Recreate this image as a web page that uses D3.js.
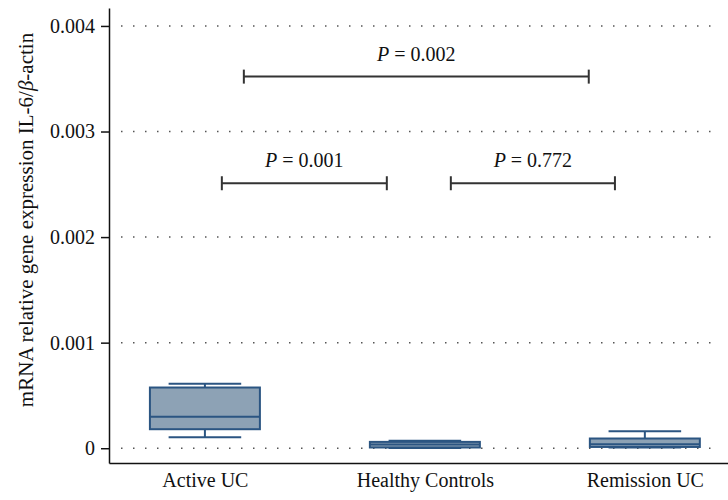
<!DOCTYPE html>
<html>
<head>
<meta charset="utf-8">
<script src="https://cdn.jsdelivr.net/npm/d3@7"></script>
<style>
  body { margin: 0; background: #fff; }
  svg { display: block; font-family: "Liberation Serif", "DejaVu Serif", serif; }
  .axis text { font-size: 20px; fill: #111; font-family: "Liberation Serif", serif; }
  .axis path, .axis line { stroke: #111; stroke-width: 1.5; }
</style>
</head>
<body>
<div id="chart"></div>
<script>
const categories = ['Active UC', 'Healthy Controls', 'Remission UC'];
const whiskerLow = [0.000104, 0.000002, 0.000008];
const q1 = [0.00018, 0.000007, 0.000012];
const medians = [0.000297, 0.000035, 0.000038];
const q3 = [0.000575, 0.00006, 0.000092];
const whiskerHigh = [0.00061, 0.00007, 0.000161];

const yTicks = [0, 0.001, 0.002, 0.003, 0.004];

// comparisons: start / end in category units, level in data units
const pLabels = ['0.002', '0.001', '0.772'];
const pFrom = [0.177, 0.077, 1.118];
const pTo = [1.745, 0.827, 1.864];
const pLevel = [0.00352, 0.00251, 0.00251];

const width = 728;
const height = 500;

const svg = d3.select('#chart')
  .append('svg')
  .attr('width', width)
  .attr('height', height);

const xScale = d3.scaleLinear().domain([-0.436, 2.378]).range([109, 728]);
const yScale = d3.scaleLinear().domain([-0.00014, 0.00417]).range([463, 8]);

// dotted grid
svg.append('g')
  .attr('class', 'grid')
  .selectAll('line')
  .data(yTicks)
  .enter()
  .append('line')
  .attr('x1', 121)
  .attr('x2', 720)
  .attr('y1', d => yScale(d))
  .attr('y2', d => yScale(d))
  .attr('stroke', '#555')
  .attr('stroke-width', 1.5)
  .attr('stroke-dasharray', '1.5,10.5');

// axes
const yAxis = d3.axisLeft(yScale)
  .tickValues(yTicks)
  .tickSize(8)
  .tickSizeOuter(0)
  .tickPadding(6)
  .tickFormat(d => d === 0 ? '0' : d3.format('.3f')(d));

svg.append('g')
  .attr('class', 'y axis')
  .attr('transform', `translate(${xScale.range()[0]},0)`)
  .call(yAxis);

const xAxis = d3.axisBottom(xScale)
  .tickValues([0, 1, 2])
  .tickSize(0)
  .tickSizeOuter(0)
  .tickPadding(10)
  .tickFormat(i => categories[i]);

svg.append('g')
  .attr('class', 'x axis')
  .attr('transform', `translate(0,${yScale.range()[0]})`)
  .call(xAxis);

// y label
const yLabel = svg.append('text')
  .attr('transform', 'translate(33,220) rotate(-90)')
  .attr('text-anchor', 'middle')
  .style('font-size', '21px')
  .attr('fill', '#111');
yLabel.append('tspan').text('mRNA relative gene expression IL-6/');
yLabel.append('tspan').style('font-style', 'italic').text('β');
yLabel.append('tspan').text('-actin');

// boxes
const boxW = 0.5;
const whiskW = 0.33;
const stroke = '#2b5582';
const boxes = svg.append('g').attr('class', 'boxes');

categories.forEach((c, i) => {
  const g = boxes.append('g');
  const cx = xScale(i);
  const halfW = (xScale(i + whiskW / 2) - xScale(i - whiskW / 2)) / 2;

  g.append('line')
    .attr('x1', cx).attr('x2', cx)
    .attr('y1', yScale(whiskerHigh[i])).attr('y2', yScale(whiskerLow[i]))
    .attr('stroke', stroke).attr('stroke-width', 2);

  [whiskerLow[i], whiskerHigh[i]].forEach(v => {
    g.append('line')
      .attr('x1', cx - halfW).attr('x2', cx + halfW)
      .attr('y1', yScale(v)).attr('y2', yScale(v))
      .attr('stroke', stroke).attr('stroke-width', 2);
  });

  g.append('rect')
    .attr('x', xScale(i - boxW / 2))
    .attr('width', xScale(i + boxW / 2) - xScale(i - boxW / 2))
    .attr('y', yScale(q3[i]))
    .attr('height', yScale(q1[i]) - yScale(q3[i]))
    .attr('fill', '#8da2b5')
    .attr('stroke', stroke)
    .attr('stroke-width', 2);

  g.append('line')
    .attr('x1', xScale(i - boxW / 2)).attr('x2', xScale(i + boxW / 2))
    .attr('y1', yScale(medians[i])).attr('y2', yScale(medians[i]))
    .attr('stroke', stroke).attr('stroke-width', 2);
});

// significance brackets
const brackets = svg.append('g').attr('class', 'brackets');
pLabels.forEach((p, i) => {
  const y = yScale(pLevel[i]);
  const x1 = xScale(pFrom[i]);
  const x2 = xScale(pTo[i]);
  brackets.append('line')
    .attr('x1', x1).attr('x2', x2).attr('y1', y).attr('y2', y)
    .attr('stroke', '#333').attr('stroke-width', 2);
  [x1, x2].forEach(x => {
    brackets.append('line')
      .attr('x1', x).attr('x2', x).attr('y1', y - 7).attr('y2', y + 7)
      .attr('stroke', '#333').attr('stroke-width', 2);
  });
  const t = brackets.append('text')
    .attr('x', (x1 + x2) / 2)
    .attr('y', y - 16)
    .attr('text-anchor', 'middle')
    .style('font-size', '20px')
    .attr('fill', '#111');
  t.append('tspan').style('font-style', 'italic').text('P');
  t.append('tspan').text(' = ' + p);
});
</script>
</body>
</html>
